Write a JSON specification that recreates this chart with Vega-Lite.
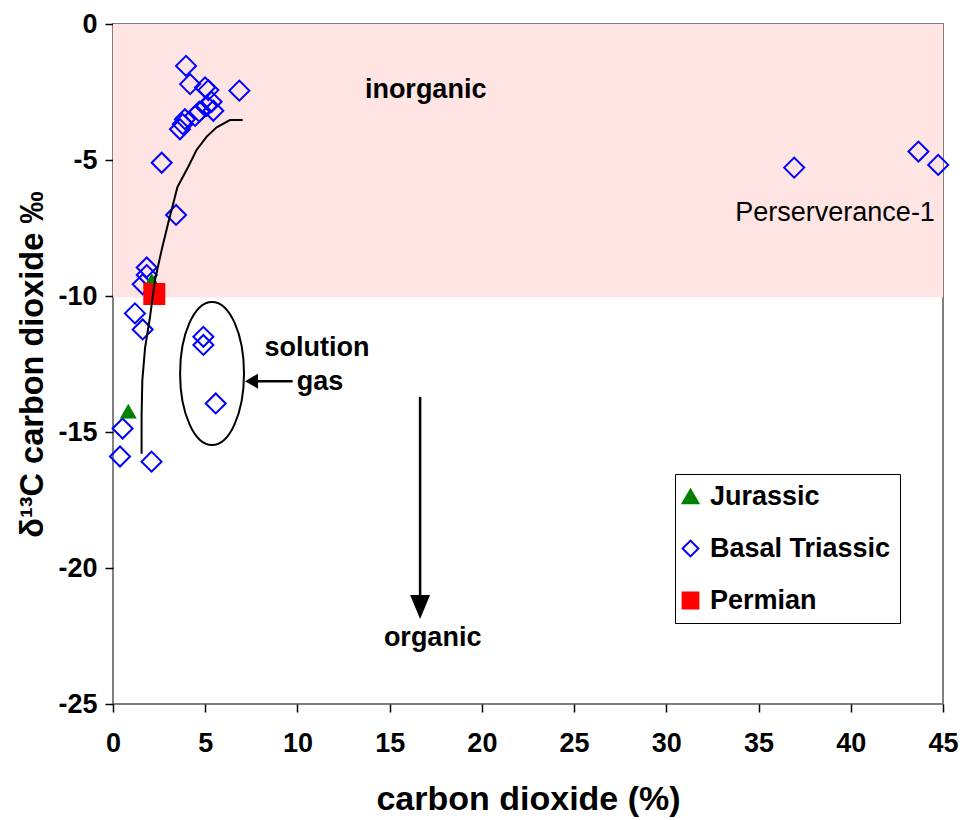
{
  "$schema": "https://vega.github.io/schema/vega-lite/v6.json",
  "width": 830,
  "height": 680,
  "autosize": {"type": "none"},
  "padding": {"left": 113, "top": 24, "right": 23, "bottom": 116},
  "background": "white",
  "config": {
    "view": {"stroke": "#808080", "strokeWidth": 2},
    "font": "Liberation Sans"
  },
  "datasets": {
    "pts": [
      {"x": 3.96, "y": -1.54, "group": "Basal Triassic"},
      {"x": 4.18, "y": -2.21, "group": "Basal Triassic"},
      {"x": 4.99, "y": -2.33, "group": "Basal Triassic"},
      {"x": 5.17, "y": -2.43, "group": "Basal Triassic"},
      {"x": 6.85, "y": -2.45, "group": "Basal Triassic"},
      {"x": 5.35, "y": -2.86, "group": "Basal Triassic"},
      {"x": 5.08, "y": -3.01, "group": "Basal Triassic"},
      {"x": 5.44, "y": -3.19, "group": "Basal Triassic"},
      {"x": 4.68, "y": -3.22, "group": "Basal Triassic"},
      {"x": 4.45, "y": -3.38, "group": "Basal Triassic"},
      {"x": 3.9, "y": -3.5, "group": "Basal Triassic"},
      {"x": 3.78, "y": -3.68, "group": "Basal Triassic"},
      {"x": 3.63, "y": -3.87, "group": "Basal Triassic"},
      {"x": 2.64, "y": -5.1, "group": "Basal Triassic"},
      {"x": 3.42, "y": -7.02, "group": "Basal Triassic"},
      {"x": 1.83, "y": -8.95, "group": "Basal Triassic"},
      {"x": 1.83, "y": -9.23, "group": "Basal Triassic"},
      {"x": 1.61, "y": -9.57, "group": "Basal Triassic"},
      {"x": 1.19, "y": -10.64, "group": "Basal Triassic"},
      {"x": 1.61, "y": -11.23, "group": "Basal Triassic"},
      {"x": 4.9, "y": -11.5, "group": "Basal Triassic"},
      {"x": 4.9, "y": -11.8, "group": "Basal Triassic"},
      {"x": 5.57, "y": -13.95, "group": "Basal Triassic"},
      {"x": 0.52, "y": -14.87, "group": "Basal Triassic"},
      {"x": 0.38, "y": -15.9, "group": "Basal Triassic"},
      {"x": 2.09, "y": -16.09, "group": "Basal Triassic"},
      {"x": 36.93, "y": -5.28, "group": "Basal Triassic"},
      {"x": 43.67, "y": -4.69, "group": "Basal Triassic"},
      {"x": 44.74, "y": -5.18, "group": "Basal Triassic"},
      {"x": 0.83, "y": -14.25, "group": "Jurassic"},
      {"x": 2.1, "y": -9.45, "group": "Jurassic"},
      {"x": 2.24, "y": -9.93, "group": "Permian"}
    ],
    "curve": [
      {"seq": 1, "x": 1.55, "y": -15.8},
      {"seq": 2, "x": 1.55, "y": -14.4},
      {"seq": 3, "x": 1.59, "y": -13.1},
      {"seq": 4, "x": 1.74, "y": -11.9},
      {"seq": 5, "x": 2.0, "y": -10.8},
      {"seq": 6, "x": 2.28, "y": -9.4},
      {"seq": 7, "x": 2.64, "y": -8.3},
      {"seq": 8, "x": 3.0, "y": -7.3},
      {"seq": 9, "x": 3.36, "y": -6.35},
      {"seq": 10, "x": 3.49, "y": -6.0},
      {"seq": 11, "x": 4.08, "y": -5.25},
      {"seq": 12, "x": 4.53, "y": -4.63},
      {"seq": 13, "x": 5.08, "y": -4.14},
      {"seq": 14, "x": 5.62, "y": -3.8},
      {"seq": 15, "x": 6.34, "y": -3.53},
      {"seq": 16, "x": 7.03, "y": -3.53}
    ]
  },
  "encoding": {
    "x": {
      "field": "x",
      "type": "quantitative",
      "title": "carbon dioxide (%)",
      "scale": {"domain": [0, 45], "nice": false, "zero": false},
      "axis": {
        "values": [0, 5, 10, 15, 20, 25, 30, 35, 40, 45],
        "labelExpr": "'' + datum.value",
        "grid": false,
        "domain": false,
        "tickSize": 8,
        "tickColor": "black",
        "tickWidth": 1.5,
        "labelFont": "Liberation Sans",
        "labelFontSize": 27,
        "labelFontWeight": "bold",
        "labelColor": "black",
        "labelPadding": 18,
        "labelFlush": false,
        "titleFont": "Liberation Sans",
        "titleFontSize": 34,
        "titleFontWeight": "bold",
        "titleColor": "black",
        "titlePadding": 26
      }
    },
    "y": {
      "field": "y",
      "type": "quantitative",
      "title": "δ¹³C carbon dioxide ‰",
      "scale": {"domain": [-25, 0], "nice": false, "zero": false},
      "axis": {
        "values": [-25, -20, -15, -10, -5, 0],
        "labelExpr": "'' + datum.value",
        "grid": false,
        "domain": false,
        "tickSize": 8,
        "tickColor": "black",
        "tickWidth": 1.5,
        "labelFont": "Liberation Sans",
        "labelFontSize": 27,
        "labelFontWeight": "bold",
        "labelColor": "black",
        "labelPadding": 8,
        "labelFlush": false,
        "titleFont": "Liberation Sans",
        "titleFontSize": 32.5,
        "titleFontWeight": "bold",
        "titleColor": "black",
        "titlePadding": 8
      }
    }
  },
  "layer": [
    {
      "data": {"values": [{"x": 0, "x2": 45, "y": 0, "y2": -10.05}]},
      "mark": {"type": "rect", "fill": "#ffe4e4", "stroke": null},
      "encoding": {"x2": {"field": "x2"}, "y2": {"field": "y2"}}
    },
    {
      "data": {"values": [{"x": 5.37, "y": -12.85}]},
      "mark": {
        "type": "point",
        "shape": "M-0.447,0 A0.447,1 0 1,0 0.447,0 A0.447,1 0 1,0 -0.447,0 Z",
        "size": 20449,
        "filled": false,
        "stroke": "black",
        "strokeWidth": 2,
        "opacity": 1
      }
    },
    {
      "data": {"name": "pts"},
      "transform": [{"filter": "datum.group === 'Basal Triassic'"}],
      "mark": {"type": "point", "strokeWidth": 2, "opacity": 1, "size": 400},
      "encoding": {
        "shape": {
          "field": "group",
          "type": "nominal",
          "scale": {"domain": ["Jurassic", "Basal Triassic", "Permian"], "range": ["triangle-up", "diamond", "square"]},
          "legend": {
            "title": null,
            "orient": "none",
            "legendX": 562,
            "legendY": 450,
            "strokeColor": "black",
            "fillColor": "white",
            "padding": 9,
            "labelFont": "Liberation Sans",
            "labelFontSize": 27,
            "labelFontWeight": "bold",
            "labelColor": "black",
            "labelLimit": 400,
            "labelOffset": 6,
            "symbolOffset": -7,
            "rowPadding": 24,
            "symbolSize": 250,
            "symbolStrokeWidth": 2
          }
        },
        "fill": {
          "field": "group",
          "type": "nominal",
          "scale": {"domain": ["Jurassic", "Basal Triassic", "Permian"], "range": ["#008000", "transparent", "#ff0000"]}
        },
        "stroke": {
          "field": "group",
          "type": "nominal",
          "scale": {"domain": ["Jurassic", "Basal Triassic", "Permian"], "range": ["#008000", "#0000ff", "#ff0000"]}
        }
      }
    },
    {
      "data": {"name": "pts"},
      "transform": [{"filter": "datum.group === 'Jurassic'"}],
      "mark": {"type": "point", "strokeWidth": 2, "opacity": 1, "size": 180},
      "encoding": {
        "shape": {"field": "group", "type": "nominal"},
        "fill": {"field": "group", "type": "nominal"},
        "stroke": {"field": "group", "type": "nominal"}
      }
    },
    {
      "data": {"name": "pts"},
      "transform": [{"filter": "datum.group === 'Permian'"}],
      "mark": {"type": "point", "strokeWidth": 2, "opacity": 1, "size": 400},
      "encoding": {
        "shape": {"field": "group", "type": "nominal"},
        "fill": {"field": "group", "type": "nominal"},
        "stroke": {"field": "group", "type": "nominal"}
      }
    },
    {
      "data": {"name": "curve"},
      "mark": {"type": "line", "color": "black", "strokeWidth": 2},
      "encoding": {"order": {"field": "seq", "type": "quantitative"}}
    },
    {
      "data": {"values": [
        {"x": 7.5, "x2": 9.74, "y": -13.13, "y2": -13.13},
        {"x": 16.65, "x2": 16.65, "y": -13.71, "y2": -21.3}
      ]},
      "mark": {"type": "rule", "color": "black", "strokeWidth": 2.5},
      "encoding": {"x2": {"field": "x2"}, "y2": {"field": "y2"}}
    },
    {
      "data": {"values": [{"x": 7.51, "y": -13.13}]},
      "mark": {"type": "point", "shape": "M-0.87,0 L0.87,-1 L0.87,1 Z", "size": 225, "filled": true, "color": "black", "opacity": 1}
    },
    {
      "data": {"values": [{"x": 16.65, "y": -21.43}]},
      "mark": {"type": "point", "shape": "M0,1 L-0.83,-1 L0.83,-1 Z", "size": 576, "filled": true, "color": "black", "opacity": 1}
    },
    {
      "data": {"values": [
        {"x": 16.95, "y": -2.73, "label": "inorganic"},
        {"x": 11.06, "y": -12.21, "label": "solution"},
        {"x": 11.23, "y": -13.46, "label": "gas"},
        {"x": 17.33, "y": -22.87, "label": "organic"}
      ]},
      "mark": {"type": "text", "font": "Liberation Sans", "fontSize": 27, "fontWeight": "bold", "align": "center", "baseline": "alphabetic", "color": "black"},
      "encoding": {"text": {"field": "label"}}
    },
    {
      "data": {"values": [{"x": 39.15, "y": -7.23, "label": "Perserverance-1"}]},
      "mark": {"type": "text", "font": "Liberation Sans", "fontSize": 27, "align": "center", "baseline": "alphabetic", "color": "black"},
      "encoding": {"text": {"field": "label"}}
    }
  ]
}
